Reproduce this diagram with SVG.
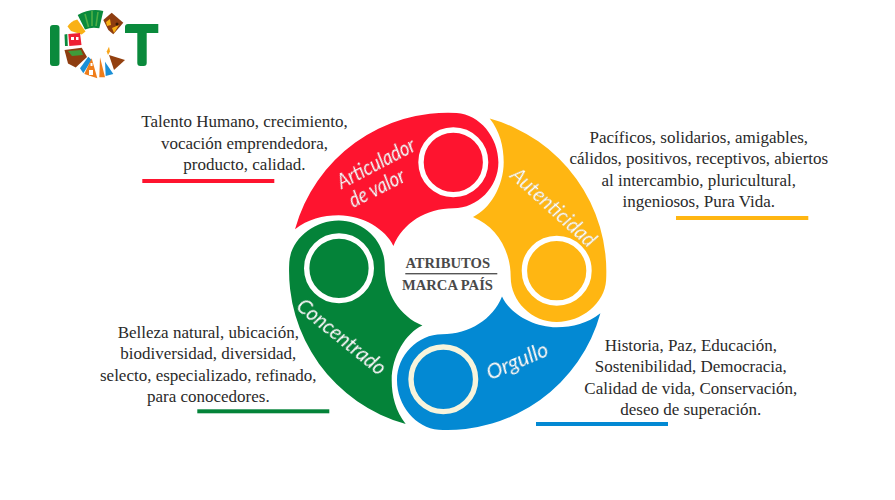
<svg xmlns="http://www.w3.org/2000/svg" width="895" height="500" viewBox="0 0 895 500">
<style>
.t{font-family:"Liberation Serif","Times New Roman",serif;font-size:17px;fill:#2a2a2a;text-anchor:middle}
.c{font-family:"Liberation Serif","Times New Roman",serif;font-size:14.6px;fill:#4a4a4a;text-anchor:middle;font-weight:bold}
.h{font-family:"Lato","Open Sans",sans-serif;font-style:italic;font-weight:400;font-size:21px;fill:#fff;text-anchor:middle;filter:drop-shadow(.8px .8px .6px rgba(0,0,0,.45))}
.ring{fill:none;stroke:#fff;stroke-width:5.400}
</style>
<defs>
<path id="petal" d="M-152.7-42A158.7 158.7 0 0 1 9-158.4C32-157 50.7-134 50.7-109C50.7-84 30-63 5.7-63C-22-63-45-48-54.3-25.3C-62-42-85-56-109-56C-125-56-140-52-152.7-42Z"/>
</defs>
<rect width="895" height="500" fill="#fff"/>
<g id="logo">
<rect x="50" y="25" width="9.500" height="41" rx="3" fill="#0a8a3c"/>
<path d="M125 27q0-3 3-3h30.300v9h-11.600v30q0 3-3 3h-3.400q-3 0-3-3v-30h-12.300z" fill="#0a8a3c"/>
<path d="M77.700 15Q90 8 103.300 11L99.300 28.300Q92 26.500 85 29.500Z" fill="#0a8a3c"/>
<path d="M85 14L88.500 27M92 11L92 26M98 12L96 26" stroke="#4fae46" stroke-width="1.600" fill="none"/>
<path d="M67.500 26.500Q71 21 77.300 19.500L85.500 31.500L81.700 34.500L71 31Z" fill="#f9b115"/>
<path d="M64.500 34.500L67.300 34L67.800 46L65 46Z" fill="#0a8a3c"/>
<path d="M68.300 34L80 33L81.500 45L69.300 46Z" fill="#ee2033"/>
<path d="M71 37h3v3h-3zM76 37h2.500v3h-2.500z" fill="#fff"/>
<path d="M64.500 50L81.700 47.700L87 57L75.700 67.500L68 63.500Z" fill="#8e3d10"/>
<path d="M68 51L81 50L83 55L72 56Z" fill="#3e9b3a"/>
<path d="M80 68.300L88.300 56.700L91.700 60L83.300 73.300Z" fill="#1a8fd6"/>
<path d="M84.300 74L91.700 58.300L97.300 78.300Z" fill="#ef7d1a"/>
<path d="M89 70h4v5h-4zM90.500 63h2v3h-2z" fill="#fff"/>
<path d="M99.300 77.300L100 57.300L105 77.300Z" fill="#ef7d1a"/>
<path d="M105.700 76L105 61.700L113.300 74Z" fill="#1a8fd6"/>
<path d="M109 55L125 60L114 70Z" fill="#93400f"/>
<path d="M106.700 51.500L109 46.700L110 51.500L108 55Z" fill="#f9a51a"/>
<path d="M103.300 20L111.700 12.700L123.300 22.700L113.300 34.300L108.300 30Z" fill="#8e3d10"/>
<path d="M106 22L110 19L111 25L107 26ZM112 28L119 25L114 33Z" fill="#f9b115"/>
<circle cx="117" cy="24" r="1.500" fill="#3a1a05"/>
</g>
<g id="articulador">
<use href="#petal" transform="translate(447.7 271.3)" fill="#fe142f"/>
<circle class="ring" cx="453.300" cy="162.300" r="32.300"/>
<text class="h" transform="translate(379.300 169.700) rotate(-27.500)" textLength="85" lengthAdjust="spacingAndGlyphs">Articulador</text>
<text class="h" transform="translate(380 194.500) rotate(-27)" textLength="60" lengthAdjust="spacingAndGlyphs">de valor</text>
</g>
<g id="autenticidad">
<use href="#petal" transform="translate(447.7 271.3) rotate(90)" fill="#ffb612"/>
<circle class="ring" cx="556.700" cy="270.700" r="32.300"/>
<text class="h" transform="translate(548.700 212.700) rotate(42)" textLength="107" lengthAdjust="spacingAndGlyphs">Autenticidad</text>
</g>
<g id="orgullo">
<use href="#petal" transform="translate(447.7 271.3) rotate(180)" fill="#0389d3"/>
<circle class="ring" style="stroke:#f7f4dc" cx="443.300" cy="379.300" r="32.300"/>
<text class="h" transform="translate(520 367.700) rotate(-23)" textLength="65" lengthAdjust="spacingAndGlyphs">Orgullo</text>
</g>
<g id="concentrado">
<use href="#petal" transform="translate(447.7 271.3) rotate(270)" fill="#048339"/>
<circle class="ring" cx="339" cy="268.300" r="32.300"/>
<text class="h" transform="translate(337 342.300) rotate(39)" textLength="108" lengthAdjust="spacingAndGlyphs">Concentrado</text>
</g>
<g id="centro">
<text class="c" x="447.700" y="267.700">ATRIBUTOS</text>
<rect x="405.300" y="273" width="92" height="1.400" fill="#555"/>
<text class="c" x="447.500" y="290.300">MARCA PAÍS</text>
</g>
<g id="texto-rojo">
<text class="t" x="244.500" y="127.300">Talento Humano, crecimiento,</text>
<text class="t" x="244.500" y="148.700">vocación emprendedora,</text>
<text class="t" x="244.500" y="170">producto, calidad.</text>
<rect x="142.300" y="179" width="132" height="4" fill="#fe142f"/>
</g>
<g id="texto-amarillo">
<text class="t" x="698.800" y="142.700">Pacíficos, solidarios, amigables,</text>
<text class="t" x="698.800" y="164.300">cálidos, positivos, receptivos, abiertos</text>
<text class="t" x="698.800" y="186">al intercambio, pluricultural,</text>
<text class="t" x="698.800" y="207.300">ingeniosos, Pura Vida.</text>
<rect x="676" y="216" width="132.300" height="4" fill="#ffb612"/>
</g>
<g id="texto-verde">
<text class="t" x="208.300" y="337.700">Belleza natural, ubicación,</text>
<text class="t" x="208.300" y="359">biodiversidad, diversidad,</text>
<text class="t" x="208.300" y="381">selecto, especializado, refinado,</text>
<text class="t" x="208.300" y="402.300">para conocedores.</text>
<rect x="197.300" y="409.300" width="132" height="4" fill="#048339"/>
</g>
<g id="texto-azul">
<text class="t" x="690.800" y="351">Historia, Paz, Educación,</text>
<text class="t" x="690.800" y="372.300">Sostenibilidad, Democracia,</text>
<text class="t" x="690.800" y="394">Calidad de vida, Conservación,</text>
<text class="t" x="690.800" y="415">deseo de superación.</text>
<rect x="536" y="422" width="132" height="4" fill="#0389d3"/>
</g>
</svg>
